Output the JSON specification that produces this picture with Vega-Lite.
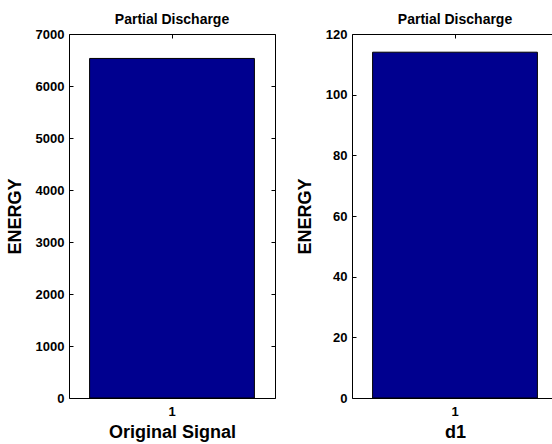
{
  "$schema": "https://vega.github.io/schema/vega-lite/v6.json",
  "padding": {"left": 5, "top": 12, "right": 0, "bottom": 0},
  "spacing": 19,
  "config": {
    "view": {"stroke": "black", "strokeWidth": 1},
    "font": "Liberation Sans",
    "axis": {
      "grid": false,
      "domain": false,
      "tickColor": "black",
      "tickSize": 4,
      "offset": -4,
      "labelFont": "Liberation Sans",
      "labelFontSize": 13,
      "labelFontWeight": "bold",
      "labelColor": "black",
      "titleFont": "Liberation Sans",
      "titleFontSize": 18,
      "titleFontWeight": "bold",
      "titleColor": "black"
    },
    "title": {"font": "Liberation Sans", "fontSize": 14, "fontWeight": "bold", "color": "black", "offset": 1, "anchor": "middle"}
  },
  "hconcat": [
    {
      "width": 206,
      "height": 364,
      "title": "Partial Discharge",
      "data": {"values": [{"band": "1", "energy": 6530}]},
      "layer": [
        {
          "mark": {"type": "bar", "color": "#00008F", "stroke": "black", "strokeWidth": 1},
          "encoding": {
            "x": {"field": "band", "type": "ordinal", "title": "Original Signal",
                  "scale": {"paddingInner": 0.2, "paddingOuter": 0.1},
                  "axis": {"orient": "bottom", "labelAngle": 0, "labelPadding": 7, "titlePadding": 5}},
            "y": {"field": "energy", "type": "quantitative", "title": "ENERGY",
                  "scale": {"domain": [0, 7000], "nice": false},
                  "axis": {"orient": "left", "format": "d", "values": [0, 1000, 2000, 3000, 4000, 5000, 6000, 7000], "labelPadding": 5, "titlePadding": 11}}
          }
        },
        {
          "mark": {"type": "bar", "opacity": 0},
          "encoding": {
            "x": {"field": "band", "type": "ordinal", "axis": {"orient": "top", "labels": false, "title": null}},
            "y": {"field": "energy", "type": "quantitative", "axis": {"orient": "right", "labels": false, "title": null, "values": [0, 1000, 2000, 3000, 4000, 5000, 6000, 7000]}}
          }
        }
      ],
      "resolve": {"axis": {"x": "independent", "y": "independent"}}
    },
    {
      "width": 206,
      "height": 364,
      "title": "Partial Discharge",
      "data": {"values": [{"band": "1", "energy": 114}]},
      "layer": [
        {
          "mark": {"type": "bar", "color": "#00008F", "stroke": "black", "strokeWidth": 1},
          "encoding": {
            "x": {"field": "band", "type": "ordinal", "title": "d1",
                  "scale": {"paddingInner": 0.2, "paddingOuter": 0.1},
                  "axis": {"orient": "bottom", "labelAngle": 0, "labelPadding": 7, "titlePadding": 5}},
            "y": {"field": "energy", "type": "quantitative", "title": "ENERGY",
                  "scale": {"domain": [0, 120], "nice": false},
                  "axis": {"orient": "left", "format": "d", "values": [0, 20, 40, 60, 80, 100, 120], "labelPadding": 5, "titlePadding": 11}}
          }
        },
        {
          "mark": {"type": "bar", "opacity": 0},
          "encoding": {
            "x": {"field": "band", "type": "ordinal", "axis": {"orient": "top", "labels": false, "title": null}},
            "y": {"field": "energy", "type": "quantitative", "axis": {"orient": "right", "labels": false, "title": null, "values": [0, 20, 40, 60, 80, 100, 120]}}
          }
        }
      ],
      "resolve": {"axis": {"x": "independent", "y": "independent"}}
    }
  ]
}
